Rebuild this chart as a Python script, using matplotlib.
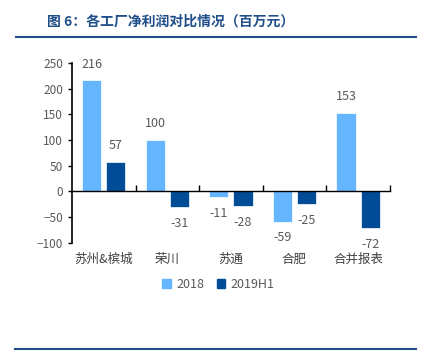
import matplotlib
matplotlib.use("Agg")
import matplotlib.pyplot as plt
import numpy as np
from matplotlib.lines import Line2D
from matplotlib.patches import Patch

plt.rcParams['font.family'] = ['Noto Sans CJK SC', 'DejaVu Sans']

# data
factories = ["苏州&槟城", "荣川", "苏通", "合肥", "合并报表"]
profit_2018 = [216, 100, -11, -59, 153]
profit_2019h1 = [57, -31, -28, -25, -72]
series_names = ["2018", "2019H1"]

c_light = "#66B5FF"
c_dark = "#004C97"
c_text = "#595959"
c_title = "#1F4E89"

fig = plt.figure(figsize=(4.28, 3.63), dpi=100)
ax = fig.add_axes([0.168, 0.331, 0.743, 0.496])

x = np.arange(len(factories))
w = 0.3
off = 0.19
b1 = ax.bar(x - off, profit_2018, w, color=c_light, edgecolor="white", linewidth=0.5)
b2 = ax.bar(x + off, profit_2019h1, w, color=c_dark, edgecolor="white", linewidth=0.5)

# value labels above / below each bar
for bars in (b1, b2):
    for r in bars:
        v = r.get_height()
        cx = r.get_x() + r.get_width() / 2
        if v >= 0:
            ax.annotate(f"{v:.0f}", (cx, v), xytext=(0, 7), textcoords="offset points",
                        ha="center", va="bottom", fontsize=9, color=c_text)
        else:
            ax.annotate(f"{v:.0f}", (cx, v), xytext=(0, -7), textcoords="offset points",
                        ha="center", va="top", fontsize=9, color=c_text)

ax.set_xlim(-0.5, len(factories) - 0.5)
ax.set_ylim(-100, 250)
ax.set_yticks(np.arange(-100, 251, 50))
ax.tick_params(axis="y", labelsize=8.5, labelcolor=c_text, color="black",
               length=3, width=1, direction="out")

for s in ("top", "right"):
    ax.spines[s].set_visible(False)
ax.spines["left"].set_color("black")
ax.spines["left"].set_linewidth(1.2)
ax.spines["bottom"].set_position(("data", 0))
ax.spines["bottom"].set_color("black")
ax.spines["bottom"].set_linewidth(1.0)
ax.set_xticks(np.arange(0.5, len(factories), 1.0))
ax.set_xticklabels([])
ax.tick_params(axis="x", direction="in", length=4, width=1, color="black")

for i, name in enumerate(factories):
    ax.text(i, -0.09, name, transform=ax.get_xaxis_transform(), ha="center", va="center",
            fontsize=9, color="#404040")

handles = [Patch(color=c_light), Patch(color=c_dark)]
fig.legend(handles, series_names, loc="center", bbox_to_anchor=(0.51, 0.217), ncol=2,
           frameon=False, fontsize=9, handlelength=0.7, handleheight=0.7,
           handletextpad=0.4, columnspacing=1.0, labelcolor=c_text)

fig.text(0.11, 1 - 22 / 363, "图 6：各工厂净利润对比情况（百万元）", fontsize=10,
         fontweight="bold", color=c_title, va="center", ha="left")
fig.add_artist(Line2D([16 / 428, 416 / 428], [1 - 37 / 363] * 2, color=c_title, lw=1.5))
fig.add_artist(Line2D([15 / 428, 416 / 428], [1 - 349 / 363] * 2, color=c_title, lw=1.5))

fig.savefig("out.png", dpi=100)
